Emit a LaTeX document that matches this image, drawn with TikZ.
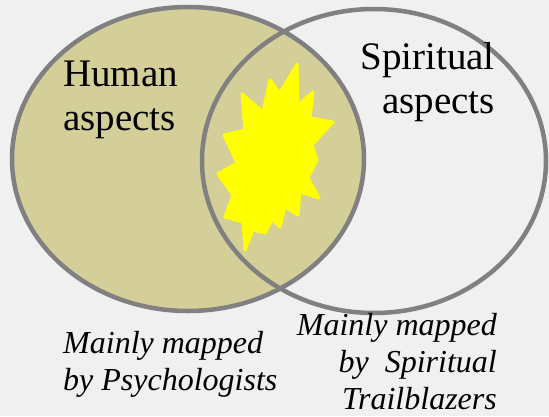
\documentclass[tikz,border=0pt]{standalone}
\usepackage{fontspec}
\setmainfont{Liberation Serif}
\usepackage{xcolor}
\definecolor{paper}{RGB}{240,240,240}
\definecolor{khaki}{RGB}{212,206,152}
\definecolor{rim}{RGB}{128,128,128}
\definecolor{flash}{RGB}{255,255,0}
\usetikzlibrary{shapes.geometric}

\begin{document}
\begin{tikzpicture}[
  x=1pt, y=-1pt,
  venn/.style={ellipse, draw=rim, line width=4.5pt, inner sep=0pt},
  heading/.style={font=\fontsize{39}{44}\selectfont, inner sep=0pt},
  caption/.style={font=\itshape\fontsize{32}{37}\selectfont, inner sep=0pt}
]
\fill[paper] (0,0) rectangle (549,416);

\node[venn, fill=khaki, minimum width=352pt, minimum height=304pt] (human) at (188,159) {};
\node[venn, minimum width=344pt, minimum height=304pt] (spirit) at (374,161) {};

% the flash in the overlap
\filldraw[fill=flash, draw=flash, line width=3pt, line join=round]
  (297,64) -- (280,93) -- (270,80) -- (263,112) -- (242,94) -- (245,130)
  -- (224,135) -- (237,163) -- (218,174) -- (233,195) -- (225,217) -- (243,222)
  -- (245,250) -- (253,230) -- (265,233) -- (272,220) -- (280,227) -- (285,207)
  -- (298,215) -- (300,192) -- (319,198) -- (308,178) -- (317,160) -- (312,145)
  -- (333,122) -- (310,118) -- (313,92) -- (298,105) -- cycle;

\node[heading, anchor=north west, align=left] (humantxt) at (63,61) {Human\\aspects};
\node[heading, anchor=north east, align=right] (spirittxt) at (495,42) {Spiritual\\aspects};

\node[caption, anchor=north west, align=left] (psych) at (63,331) {Mainly mapped\\by Psychologists};
\node[caption, anchor=north east, align=right] (trail) at (497,313) {Mainly mapped\\by\ \ Spiritual\\Trailblazers};
\end{tikzpicture}
\end{document}
